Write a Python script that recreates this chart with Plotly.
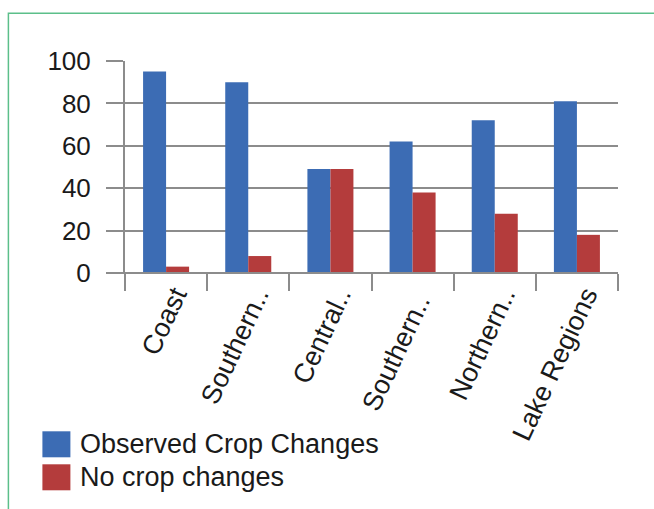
import plotly.graph_objects as go

categories = ["Coast", "Southern..", "Central..", "Southern.. ", "Northern..", "Lake Regions"]
observed = [95, 90, 49, 62, 72, 81]
no_change = [3, 8, 49, 38, 28, 18]
series_names = ["Observed Crop Changes", "No crop changes"]
y_ticks = [0, 20, 40, 60, 80, 100]

BLUE = "#3c6cb4"
RED = "#b43c3c"
GRID = "#8c8c8c"
FONT = "Liberation Sans"
TXT = "#1a1a1a"

W, H = 654, 509
L, R, T, B = 124.6, 36.4, 60.7, 236.3
pw, ph = W - L - R, H - T - B

def px(x):
    return (x - L) / pw

def py(y):
    return (H - B - y) / ph

fig = go.Figure()
fig.add_trace(go.Bar(x=categories, y=observed, name=series_names[0],
                     marker=dict(color=BLUE, line=dict(width=0)), showlegend=False))
fig.add_trace(go.Bar(x=categories, y=no_change, name=series_names[1],
                     marker=dict(color=RED, line=dict(width=0)), showlegend=False))

fig.update_layout(
    width=W, height=H,
    margin=dict(l=L, r=R, t=T, b=B),
    paper_bgcolor="white", plot_bgcolor="white",
    barmode="group", bargap=0.44, bargroupgap=0,
    font=dict(family=FONT, size=25, color=TXT),
    xaxis=dict(
        type="category", tickangle=-65, tickson="boundaries",
        ticks="outside", ticklen=17, tickwidth=2, tickcolor=GRID,
        showline=False, showgrid=False, zeroline=False,
        tickfont=dict(family=FONT, size=27, color=TXT),
        ticklabelshift=9,
        range=[-0.5, 5.5],
    ),
    yaxis=dict(
        range=[0, 100], tickvals=y_ticks,
        ticks="outside", ticklen=17, tickwidth=2, tickcolor=GRID,
        showgrid=True, gridcolor=GRID, gridwidth=2,
        showline=True, linecolor=GRID, linewidth=2,
        zeroline=False, ticklabelstandoff=10,
        tickfont=dict(family=FONT, size=26, color=TXT),
    ),
)

# vertical axis extension below baseline (tick mark)
fig.add_shape(type="line", xref="paper", yref="paper",
              x0=0, x1=0, y0=0, y1=py(290), line=dict(color=GRID, width=2))
# baseline
fig.add_shape(type="line", xref="paper", yref="paper",
              x0=px(107), x1=1, y0=0, y1=0, line=dict(color=GRID, width=2))

# green frame
fig.add_shape(type="rect", xref="paper", yref="paper",
              x0=px(8), x1=px(700), y0=py(560), y1=py(13),
              line=dict(color="#5cbf8a", width=1.5), fillcolor="rgba(0,0,0,0)")

# custom legend
for i, (name, col) in enumerate(zip(series_names, [BLUE, RED])):
    top = 431 + i * 33
    fig.add_shape(type="rect", xref="paper", yref="paper",
                  x0=px(42), x1=px(70), y0=py(top + 26), y1=py(top),
                  line=dict(width=0), fillcolor=col)
    fig.add_annotation(xref="paper", yref="paper", x=px(78), y=py(top + 13),
                       text=name, showarrow=False, xanchor="left", yanchor="middle",
                       font=dict(family=FONT, size=27, color=TXT))

fig.write_html("out.html")
